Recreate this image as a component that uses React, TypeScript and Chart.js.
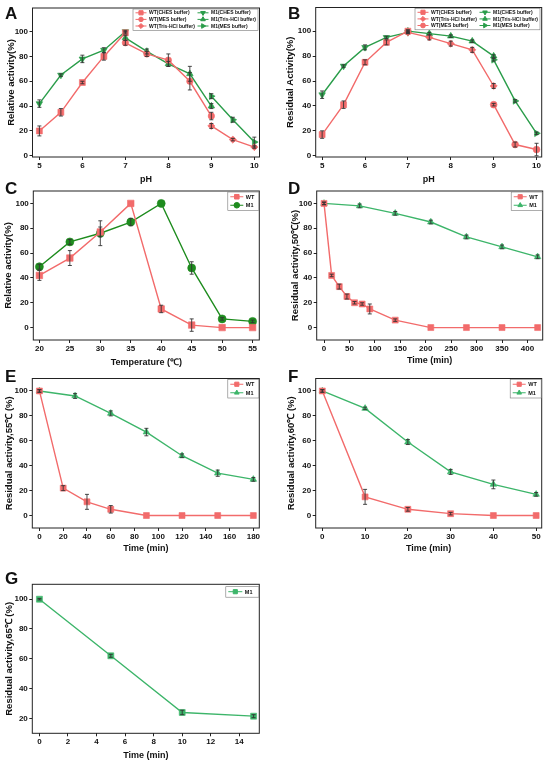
import { useEffect, useRef } from 'react'
import { Chart, registerables } from 'chart.js'
import { drawPoint } from 'chart.js/helpers'

Chart.register(...registerables)
Chart.defaults.font.family = "'Liberation Sans', Arial, sans-serif"
Chart.defaults.color = '#111'

// ---------- data ----------
const pctTicks = [0, 20, 40, 60, 80, 100]
const pctTicksG = [20, 40, 60, 80, 100]

// A / B : pH
const phTicks = [5, 6, 7, 8, 9, 10]
const phAcid = [5, 5.5, 6, 6.5, 7]
const phNeutral = [7, 7.5, 8, 8.5, 9]
const phBasic = [9, 9.5, 10]

const aWtChes = [20, 35, 59, 80, 99]
const aWtChesErr = [4, 3, 1, 3, 1]
const aWtMes = [91, 82, 77, 60, 32]
const aWtMesErr = [2, 2, 5, 7, 3]
const aWtTris = [24, 13, 7]
const aWtTrisErr = [2, 1, 1]
const aM1Ches = [42, 65, 78, 85, 100]
const aM1ChesErr = [3, 1, 3, 2, 1]
const aM1Tris = [95, 84, 74, 66, 40]
const aM1TrisErr = [2, 2, 2, 6, 2]
const aM1Mes = [48, 29, 11]
const aM1MesErr = [2, 2, 4]

const bWtChes = [17, 41, 75, 91, 100]
const bWtChesErr = [3, 3, 2, 2, 1]
const bWtTris = [99, 95, 90, 85, 56]
const bWtTrisErr = [1, 2, 2, 2, 2]
const bWtMes = [41, 9, 5]
const bWtMesErr = [1, 2, 5]
const bM1Ches = [49, 72, 87, 95, 99]
const bM1ChesErr = [3, 1, 2, 1, 1]
const bM1Tris = [100, 98, 96, 92, 80]
const bM1TrisErr = [1, 1, 1, 1, 1]
const bM1Mes = [77, 44, 18]
const bM1MesErr = [1, 1, 1]

// C : temperature
const temps = [20, 25, 30, 35, 40, 45, 50, 55]
const cWt = [42, 56, 77, 100, 15, 2, 0, 0]
const cWtErr = [4, 6, 4, 0, 3, 5, 0, 0]
const cM1 = [49, 69, 76, 85, 100, 48, 7, 5]
const cM1Err = [2, 2, 10, 3, 0, 5, 1, 1]

// D : 50 C
const dTicks = [0, 50, 100, 150, 200, 250, 300, 350, 400]
const dWtTime = [0, 15, 30, 45, 60, 75, 90, 140, 210, 280, 350, 420]
const dWt = [100, 42, 33, 25, 20, 19, 15, 6, 0, 0, 0, 0]
const dWtErr = [1, 1, 2, 2, 1, 1, 4, 1, 0, 0, 0, 0]
const dM1Time = [0, 70, 140, 210, 280, 350, 420]
const dM1 = [100, 98, 92, 85, 73, 65, 57]
const dM1Err = [1, 1.5, 1.5, 1.5, 1.5, 1.5, 1.5]

// E : 55 C
const eTicks = [0, 20, 40, 60, 80, 100, 120, 140, 160, 180]
const eWtTime = [0, 20, 40, 60, 90, 120, 150, 180]
const eWt = [100, 22, 11, 5, 0, 0, 0, 0]
const eWtErr = [1, 2, 6, 3, 0, 0, 0, 0]
const eM1Time = [0, 30, 60, 90, 120, 150, 180]
const eM1 = [100, 96, 82, 67, 48, 34, 29]
const eM1Err = [1, 2, 2, 3, 1.5, 2.5, 1.5]

// F : 60 C
const fTicks = [0, 10, 20, 30, 40, 50]
const fTime = [0, 10, 20, 30, 40, 50]
const fWt = [100, 15, 5, 1.5, 0, 0]
const fWtErr = [1, 6, 1.5, 1, 0, 0]
const fM1 = [100, 86, 59, 35, 25, 17]
const fM1Err = [1, 1, 2, 2, 3.5, 1.5]

// G : 65 C
const gTicks = [0, 2, 4, 6, 8, 10, 12, 14]
const gTime = [0, 5, 10, 15]
const gM1 = [100, 62, 24, 21.5]
const gM1Err = [0.5, 1, 1.5, 1]

// ---------- styling ----------
const RED = '#F26B6B'
const GREEN_AB = '#2A9D4A'
const GREEN_C = '#1E8C1E'
const GREEN = '#3DB56A'

type Series = {
  label: string
  xs: number[]
  ys: number[]
  errs: number[]
  color: string
  pointStyle: string
  rotation?: number
  radius: number
}

type LegendDef = {
  width: number
  rows: number
  rowH: number
  colW: number
  sample: number
  font: number
  topOff: number
  rightOff: number
}

type PanelDef = {
  letter: string
  letterX: number
  letterY: number
  canvasLeft: number
  box: { l: number; t: number; r: number; b: number }
  yTitleX: number
  xTitleY: number
  xMin: number
  xMax: number
  yMin: number
  yMax: number
  xTicks: number[]
  yTicks: number[]
  xTitle: string
  yTitle: string
  series: Series[]
  legend: LegendDef
}

const s = (
  label: string,
  xs: number[],
  ys: number[],
  errs: number[],
  color: string,
  pointStyle: string,
  radius: number,
  rotation = 0
): Series => ({ label, xs, ys, errs, color, pointStyle, radius, rotation })

const legendAB: LegendDef = { width: 125, rows: 3, rowH: 6.6, colW: 62, sample: 11, font: 5, topOff: 1, rightOff: 1.5 }
const legendTwo: LegendDef = { width: 31, rows: 2, rowH: 8.5, colW: 31, sample: 13, font: 5.5, topOff: 1, rightOff: 0.5 }
const legendOne: LegendDef = { width: 33, rows: 1, rowH: 9, colW: 33, sample: 14, font: 5.5, topOff: 2.4, rightOff: 0.5 }

const panels: PanelDef[] = [
  {
    letter: 'A', letterX: 5, letterY: 5, canvasLeft: 0,
    box: { l: 32.5, t: 8, r: 259.5, b: 157 }, yTitleX: 11.7, xTitleY: 180,
    xMin: 4.84, xMax: 10.12, yMin: -1, yMax: 119, xTicks: phTicks, yTicks: pctTicks,
    xTitle: 'pH', yTitle: 'Relative activity(%)',
    series: [
      s('WT(CHES buffer)', phAcid, aWtChes, aWtChesErr, RED, 'rect', 4.2),
      s('WT(MES buffer)', phNeutral, aWtMes, aWtMesErr, RED, 'circle', 3.2),
      s('WT(Tris-HCl buffer)', phBasic, aWtTris, aWtTrisErr, RED, 'rectRot', 3.6),
      s('M1(CHES buffer)', phAcid, aM1Ches, aM1ChesErr, GREEN_AB, 'triangle', 3.8, 180),
      s('M1(Tris-HCl buffer)', phNeutral, aM1Tris, aM1TrisErr, GREEN_AB, 'triangle', 3.8),
      s('M1(MES buffer)', phBasic, aM1Mes, aM1MesErr, GREEN_AB, 'triangle', 3.8, 90),
    ],
    legend: legendAB,
  },
  {
    letter: 'B', letterX: 288, letterY: 5, canvasLeft: 275,
    box: { l: 315.7, t: 7.5, r: 541.7, b: 157 }, yTitleX: 290, xTitleY: 180,
    xMin: 4.85, xMax: 10.12, yMin: -1, yMax: 119, xTicks: phTicks, yTicks: pctTicks,
    xTitle: 'pH', yTitle: 'Residual Activity(%)',
    series: [
      s('WT(CHES buffer)', phAcid, bWtChes, bWtChesErr, RED, 'rect', 4.2),
      s('WT(Tris-HCl buffer)', phNeutral, bWtTris, bWtTrisErr, RED, 'rectRot', 3.6),
      s('WT(MES buffer)', phBasic, bWtMes, bWtMesErr, RED, 'circle', 3.4),
      s('M1(CHES buffer)', phAcid, bM1Ches, bM1ChesErr, GREEN_AB, 'triangle', 3.8, 180),
      s('M1(Tris-HCl buffer)', phNeutral, bM1Tris, bM1TrisErr, GREEN_AB, 'triangle', 3.8),
      s('M1(MES buffer)', phBasic, bM1Mes, bM1MesErr, GREEN_AB, 'triangle', 3.8, 90),
    ],
    legend: { ...legendAB, rightOff: 1.7 },
  },
  {
    letter: 'C', letterX: 5, letterY: 180, canvasLeft: 0,
    box: { l: 33.3, t: 191, r: 259.3, b: 340 }, yTitleX: 8.3, xTitleY: 362.7,
    xMin: 19, xMax: 56.1, yMin: -10, yMax: 110, xTicks: temps, yTicks: pctTicks,
    xTitle: 'Temperature (℃)', yTitle: 'Relative activity(%)',
    series: [
      s('WT', temps, cWt, cWtErr, RED, 'rect', 4.6),
      s('M1', temps, cM1, cM1Err, GREEN_C, 'circle', 4),
    ],
    legend: legendTwo,
  },
  {
    letter: 'D', letterX: 288, letterY: 180, canvasLeft: 275,
    box: { l: 316.7, t: 191, r: 542.7, b: 340 }, yTitleX: 295.7, xTitleY: 360.7,
    xMin: -14.4, xMax: 430, yMin: -10, yMax: 110, xTicks: dTicks, yTicks: pctTicks,
    xTitle: 'Time (min)', yTitle: 'Residual activity,50℃(%)',
    series: [
      s('WT', dWtTime, dWt, dWtErr, RED, 'rect', 4.2),
      s('M1', dM1Time, dM1, dM1Err, GREEN, 'triangle', 3.8),
    ],
    legend: legendTwo,
  },
  {
    letter: 'E', letterX: 5, letterY: 368, canvasLeft: 0,
    box: { l: 32.3, t: 378.5, r: 259.3, b: 528 }, yTitleX: 9, xTitleY: 549,
    xMin: -6, xMax: 185, yMin: -10, yMax: 110, xTicks: eTicks, yTicks: pctTicks,
    xTitle: 'Time (min)', yTitle: 'Residual activity,55℃ (%)',
    series: [
      s('WT', eWtTime, eWt, eWtErr, RED, 'rect', 4.2),
      s('M1', eM1Time, eM1, eM1Err, GREEN, 'triangle', 3.8),
    ],
    legend: legendTwo,
  },
  {
    letter: 'F', letterX: 288, letterY: 368, canvasLeft: 275,
    box: { l: 315.7, t: 378.5, r: 541.7, b: 528 }, yTitleX: 291.7, xTitleY: 549,
    xMin: -1.55, xMax: 51.3, yMin: -10, yMax: 110, xTicks: fTicks, yTicks: pctTicks,
    xTitle: 'Time (min)', yTitle: 'Residual activity,60℃ (%)',
    series: [
      s('WT', fTime, fWt, fWtErr, RED, 'rect', 4.2),
      s('M1', fTime, fM1, fM1Err, GREEN, 'triangle', 3.8),
    ],
    legend: legendTwo,
  },
  {
    letter: 'G', letterX: 5, letterY: 569.5, canvasLeft: 0,
    box: { l: 32.3, t: 584.3, r: 259.3, b: 733.3 }, yTitleX: 9, xTitleY: 755.7,
    xMin: -0.5, xMax: 15.4, yMin: 10, yMax: 110, xTicks: gTicks, yTicks: pctTicksG,
    xTitle: 'Time (min)', yTitle: 'Residual activity,65℃ (%)',
    series: [s('M1', gTime, gM1, gM1Err, GREEN, 'rect', 4.2)],
    legend: legendOne,
  },
]

// ---------- plugins ----------
const errorBars = {
  id: 'errorBars',
  afterDatasetsDraw(chart: any) {
    const { ctx } = chart
    const xs = chart.scales.x
    const ys = chart.scales.y
    ctx.save()
    ctx.strokeStyle = '#333'
    ctx.lineWidth = 0.9
    chart.data.datasets.forEach((ds: any) => {
      ;(ds.errs || []).forEach((e: number, i: number) => {
        if (!e) return
        const p = ds.data[i]
        const px = xs.getPixelForValue(p.x)
        const top = ys.getPixelForValue(p.y + e)
        const bot = ys.getPixelForValue(p.y - e)
        ctx.beginPath()
        ctx.moveTo(px, top)
        ctx.lineTo(px, bot)
        ctx.moveTo(px - 2, top)
        ctx.lineTo(px + 2, top)
        ctx.moveTo(px - 2, bot)
        ctx.lineTo(px + 2, bot)
        ctx.stroke()
      })
    })
    ctx.restore()
  },
}

const frameAndLegend = {
  id: 'frameAndLegend',
  afterDraw(chart: any, _args: any, opts: any) {
    const { ctx, chartArea } = chart
    const { left, top, right, bottom } = chartArea
    ctx.save()
    ctx.strokeStyle = '#222'
    ctx.lineWidth = 1
    ctx.strokeRect(left, top, right - left, bottom - top)

    const lg: LegendDef = opts.legend
    const series: Series[] = opts.series
    const cols = Math.ceil(series.length / lg.rows)
    const h = lg.rows * lg.rowH + 1.5
    const bx = right - lg.rightOff - lg.width
    const by = top + lg.topOff
    ctx.fillStyle = '#fff'
    ctx.fillRect(bx, by, lg.width, h)
    ctx.strokeStyle = '#777'
    ctx.lineWidth = 0.6
    ctx.strokeRect(bx, by, lg.width, h)
    ctx.font = `bold ${lg.font}px 'Liberation Sans', Arial, sans-serif`
    ctx.textBaseline = 'middle'
    series.forEach((sr, i) => {
      const col = Math.floor(i / lg.rows)
      const row = i % lg.rows
      const x = bx + 2.5 + col * lg.colW
      const y = by + 0.5 + lg.rowH * (row + 0.5)
      ctx.strokeStyle = sr.color
      ctx.fillStyle = sr.color
      ctx.lineWidth = 1
      ctx.beginPath()
      ctx.moveTo(x, y)
      ctx.lineTo(x + lg.sample, y)
      ctx.stroke()
      drawPoint(ctx, { pointStyle: sr.pointStyle as any, rotation: sr.rotation || 0, radius: sr.radius * 0.7, borderWidth: 0.5 }, x + lg.sample / 2, y)
      ctx.fillStyle = '#111'
      ctx.fillText(sr.label, x + lg.sample + 2.5, y + 0.3)
    })
    void cols
    ctx.restore()
  },
}

// ---------- components ----------
function Panel({ def }: { def: PanelDef }) {
  const chartRef = useRef<HTMLCanvasElement>(null)
  const chartInstance = useRef<Chart | null>(null)

  const top = Math.floor(def.box.t - 8)
  const width = Math.round(def.box.r + 10 - def.canvasLeft)
  const height = Math.round(def.xTitleY + 12 - top)
  const yAxisWidth = def.box.l - def.canvasLeft
  const xAxisHeight = top + height - def.box.b
  const yTitleSize = 9.5
  const xTitleSize = 9
  const yTitlePad = def.yTitleX - def.canvasLeft - (yTitleSize * 1.2) / 2
  const xTitlePad = top + height - def.xTitleY - (xTitleSize * 1.2) / 2

  useEffect(() => {
    if (!chartRef.current) return
    if (chartInstance.current) chartInstance.current.destroy()

    chartInstance.current = new Chart(chartRef.current, {
      type: 'scatter',
      data: {
        datasets: def.series.map((sr) => ({
          label: sr.label,
          data: sr.xs.map((x, i) => ({ x, y: sr.ys[i] })),
          errs: sr.errs,
          showLine: true,
          borderColor: sr.color,
          backgroundColor: sr.color,
          borderWidth: 1.4,
          pointStyle: sr.pointStyle,
          pointRotation: sr.rotation || 0,
          pointRadius: sr.radius,
          pointBackgroundColor: sr.color,
          pointBorderColor: sr.color,
          pointBorderWidth: 0.6,
          tension: 0,
        })) as any,
      },
      options: {
        responsive: false,
        maintainAspectRatio: false,
        animation: false,
        layout: {
          padding: { top: def.box.t - top, right: width - (def.box.r - def.canvasLeft), left: 0, bottom: 0 },
        },
        plugins: {
          legend: { display: false },
          tooltip: { enabled: false },
          frameAndLegend: { legend: def.legend, series: def.series },
        } as any,
        scales: {
          x: {
            type: 'linear',
            min: def.xMin,
            max: def.xMax,
            afterBuildTicks: (axis: any) => {
              axis.ticks = def.xTicks.map((v) => ({ value: v }))
            },
            afterFit: (axis: any) => {
              axis.height = xAxisHeight
            },
            border: { display: false },
            grid: { drawOnChartArea: false, drawTicks: true, tickLength: 3, color: '#222', lineWidth: 1 },
            ticks: { font: { size: 8, weight: 'bold' }, color: '#111', padding: 1, maxRotation: 0, autoSkip: false },
            title: { display: true, text: def.xTitle, font: { size: xTitleSize, weight: 'bold' }, color: '#111', padding: xTitlePad },
          },
          y: {
            type: 'linear',
            min: def.yMin,
            max: def.yMax,
            afterBuildTicks: (axis: any) => {
              axis.ticks = def.yTicks.map((v) => ({ value: v }))
            },
            afterFit: (axis: any) => {
              axis.width = yAxisWidth
            },
            border: { display: false },
            grid: { drawOnChartArea: false, drawTicks: true, tickLength: 3, color: '#222', lineWidth: 1 },
            ticks: { font: { size: 8, weight: 'bold' }, color: '#111', padding: 1.5, autoSkip: false },
            title: { display: true, text: def.yTitle, font: { size: yTitleSize, weight: 'bold' }, color: '#111', padding: yTitlePad },
          },
        },
      } as any,
      plugins: [errorBars, frameAndLegend],
    })

    return () => {
      if (chartInstance.current) {
        chartInstance.current.destroy()
        chartInstance.current = null
      }
    }
  }, [def])

  return (
    <>
      <canvas
        ref={chartRef}
        width={width}
        height={height}
        style={{ position: 'absolute', left: def.canvasLeft, top, width, height }}
      />
      <div
        style={{
          position: 'absolute',
          left: def.letterX,
          top: def.letterY,
          font: "bold 17px 'Liberation Sans', Arial, sans-serif",
          lineHeight: '17px',
          color: '#111',
        }}
      >
        {def.letter}
      </div>
    </>
  )
}

export default function App() {
  return (
    <div style={{ position: 'absolute', left: 0, top: 0, width: 550, height: 766, background: '#fff', overflow: 'hidden' }}>
      {panels.map((p) => (
        <Panel key={p.letter} def={p} />
      ))}
    </div>
  )
}
